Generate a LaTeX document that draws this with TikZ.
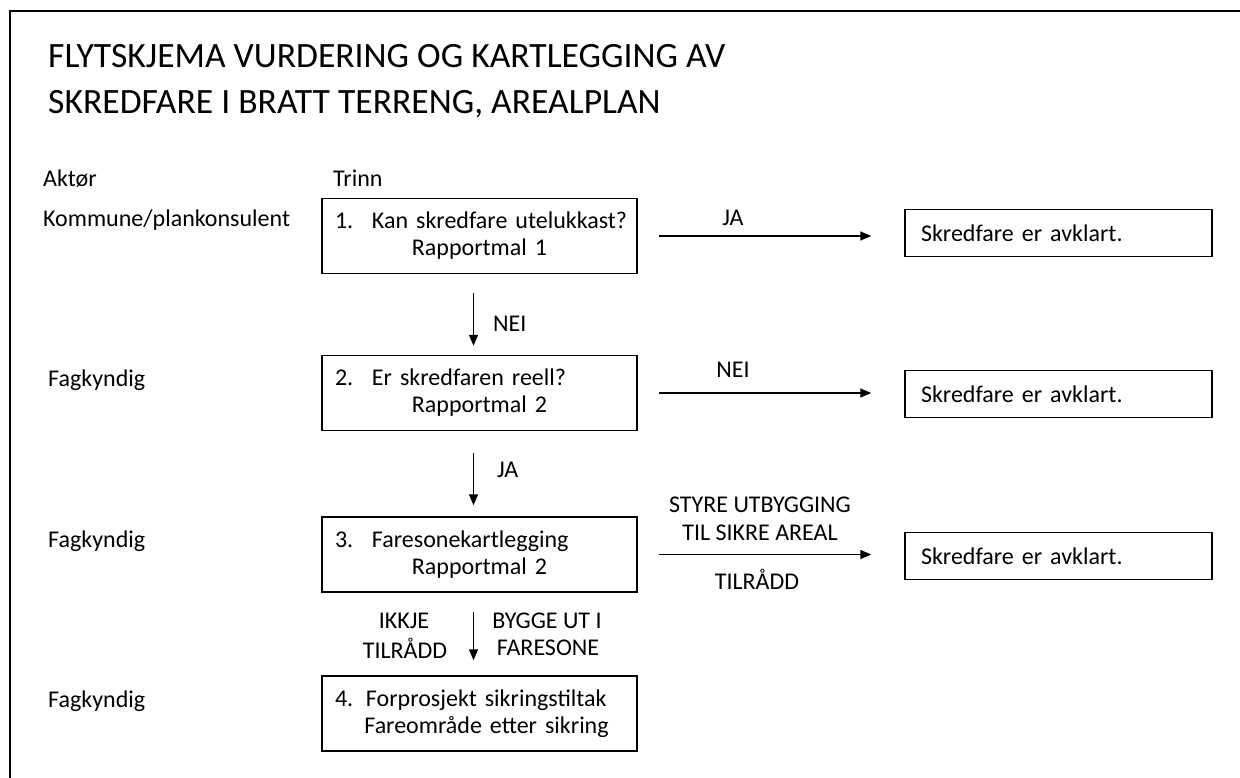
\documentclass[tikz,border=0pt]{standalone}
\usepackage{fontspec}
\setmainfont{Carlito}
\usetikzlibrary{arrows.meta}
\tikzset{
  body/.style={font=\fontsize{24}{27}\selectfont, inner sep=0pt},
  titletext/.style={font=\fontsize{35.6}{46}\selectfont, inner sep=0pt, anchor=base west},
  lbl/.style={body, anchor=base west},
  stepbox/.style={draw, line width=1.5pt, body, minimum width=315pt, minimum height=75pt,
    inner xsep=13pt, text width=289pt, align=center},
  endbox/.style={draw, line width=1.5pt, body, minimum width=307pt, minimum height=47pt,
    inner xsep=16pt, text width=275pt, align=left},
  arr/.style={line width=1.5pt, -{Triangle[length=11pt,width=9pt]}},
}
\newcommand{\stepline}[3]{\makebox[289pt][l]{\makebox[#1][l]{#2}#3}}
\begin{document}
\begin{tikzpicture}[x=1pt,y=-1pt]
\useasboundingbox (0,0) rectangle (1240,778);
\fill[white] (0,0) rectangle (1240,778);
\draw[line width=2pt] (10,779) -- (10,11) -- (1240,11);

\node[titletext] (t1) at (48,68) {FLYTSKJEMA VURDERING OG KARTLEGGING AV};
\node[titletext] (t2) at (48,114) {SKREDFARE I BRATT TERRENG, AREALPLAN};

\node[lbl] (aktor) at (43,187) {Aktør};
\node[lbl] (trinn) at (333,187) {Trinn};
\node[lbl] (l1) at (43,227) {Kommune/plankonsulent};
\node[lbl] (l2) at (48,386) {Fagkyndig};
\node[lbl] (l3) at (48,547) {Fagkyndig};
\node[lbl] (l4) at (48,707) {Fagkyndig};

\node[stepbox] (b1) at (479.5,236) {\stepline{37pt}{1.}{Kan skredfare utelukkast?}\\Rapportmal 1};
\node[stepbox] (b2) at (479.5,393) {\stepline{37pt}{2.}{Er skredfaren reell?}\\Rapportmal 2};
\node[stepbox] (b3) at (479.5,554.5) {\stepline{37pt}{3.}{Faresonekartlegging}\\Rapportmal 2};
\node[stepbox] (b4) at (479.5,713.5) {\stepline{31pt}{4.}{Forprosjekt sikringstiltak}\\\hspace*{14pt}Fareområde etter sikring};

\node[endbox] (a1) at (1058.5,233) {Skredfare er avklart.};
\node[endbox] (a2) at (1058.5,394) {Skredfare er avklart.};
\node[endbox] (a3) at (1058.5,556) {Skredfare er avklart.};

\draw[arr] ([xshift=21pt]b1.east) -- ([xshift=-33pt]b1.east -| a1.west);
\draw[arr] ([xshift=21pt]b2.east) -- ([xshift=-33pt]b2.east -| a2.west);
\draw[arr] ([xshift=21pt]b3.east) -- ([xshift=-33pt]b3.east -| a3.west);

\draw[arr] ([xshift=-6pt,yshift=-19pt]b1.south) -- ([xshift=-6pt,yshift=9pt]b2.north);
\draw[arr] ([xshift=-6pt,yshift=-22pt]b2.south) -- ([xshift=-6pt,yshift=11pt]b3.north);
\draw[arr] ([xshift=-6pt,yshift=-19pt]b3.south) -- ([xshift=-6pt,yshift=15pt]b4.north);

\node[body] (ja1) at (733,218) {JA};
\node[body] (nei2) at (733,370) {NEI};
\node[body] (styre) at (760,505) {STYRE UTBYGGING};
\node[body] (sikre) at (760,533) {TIL SIKRE AREAL};
\node[body] (tilr) at (757,579) {TILRÅDD};

\node[body, anchor=west] (nei1) at (493,324) {NEI};
\node[body, anchor=west] (ja2) at (497,470) {JA};
\node[body] (ikkje) at (404,621) {IKKJE};
\node[body] (tilr2) at (405,648) {TILRÅDD};
\node[body] (bygge) at (547,621) {BYGGE UT I};
\node[body] (fare) at (548,648) {FARESONE};
\end{tikzpicture}
\end{document}
